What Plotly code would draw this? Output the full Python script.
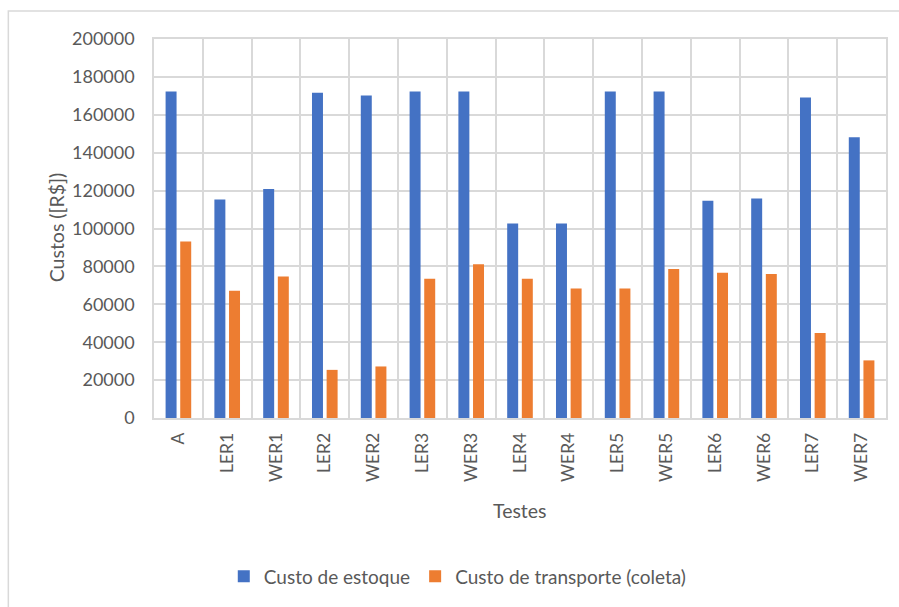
import plotly.graph_objects as go

# Test scenarios and their costs (R$)
testes = ["A", "LER1", "WER1", "LER2", "WER2", "LER3", "WER3", "LER4",
          "WER4", "LER5", "WER5", "LER6", "WER6", "LER7", "WER7"]
custo_estoque = [172300, 115300, 120900, 171600, 170200, 172300, 172300, 102600,
                 102600, 172300, 172300, 114600, 115800, 169100, 148200]
custo_transporte = [93200, 67200, 74700, 25400, 27200, 73500, 81100, 73500,
                    68400, 68400, 78600, 76700, 76000, 44900, 30400]

y_ticks = [0, 20000, 40000, 60000, 80000, 100000, 120000, 140000, 160000, 180000, 200000]

FONT = "Lato"
TXT = "#595959"
GRID = "#d9d9d9"

fig = go.Figure()
fig.add_trace(go.Bar(x=testes, y=custo_estoque, name="Custo de estoque",
                     marker=dict(color="#4472C4", line=dict(width=0))))
fig.add_trace(go.Bar(x=testes, y=custo_transporte, name="Custo de transporte (coleta)",
                     marker=dict(color="#ED7D31", line=dict(width=0))))

fig.update_layout(
    width=899, height=607,
    margin=dict(l=154, r=11, t=39, b=188),
    paper_bgcolor="white", plot_bgcolor="white",
    barmode="group", bargap=0.4, bargroupgap=0.25,
    font=dict(family=FONT, color=TXT, size=18),
    showlegend=True,
    legend=dict(orientation="h", x=0.415, xanchor="center", y=-0.418, yanchor="middle",
                font=dict(size=19, color=TXT), itemwidth=30, traceorder="normal"),
    xaxis=dict(
        type="category", tickangle=-90, tickson="boundaries",
        showgrid=True, gridcolor=GRID, gridwidth=1.5,
        showline=True, linecolor=GRID, linewidth=1.5, mirror=True,
        ticks="", tickfont=dict(size=17.5, color=TXT), ticklabelstandoff=6,
        range=[-0.5, 14.5],
    ),
    yaxis=dict(
        range=[0, 200000], tickvals=y_ticks, ticktext=[str(v) for v in y_ticks],
        showgrid=True, gridcolor=GRID, gridwidth=1.5,
        showline=True, linecolor=GRID, linewidth=1.5, mirror=True,
        zeroline=False, ticks="", tickfont=dict(size=18, color=TXT),
        ticklabelstandoff=14,
    ),
    annotations=[
        dict(text="Custos ([R$])", xref="paper", yref="paper", x=-0.134, y=0.503,
             textangle=-90, showarrow=False, font=dict(size=19.5, color=TXT),
             xanchor="center", yanchor="middle"),
        dict(text="Testes", xref="paper", yref="paper", x=0.5, y=-0.245,
             showarrow=False, font=dict(size=19.5, color=TXT),
             xanchor="center", yanchor="middle"),
    ],
    shapes=[
        # chart area frame
        dict(type="rect", xref="paper", yref="paper", x0=-0.199, x1=1.03,
             y0=-0.6, y1=1.0737, line=dict(color=GRID, width=1.5),
             fillcolor="rgba(0,0,0,0)", layer="below"),
    ],
)

fig.write_html("out.html")
